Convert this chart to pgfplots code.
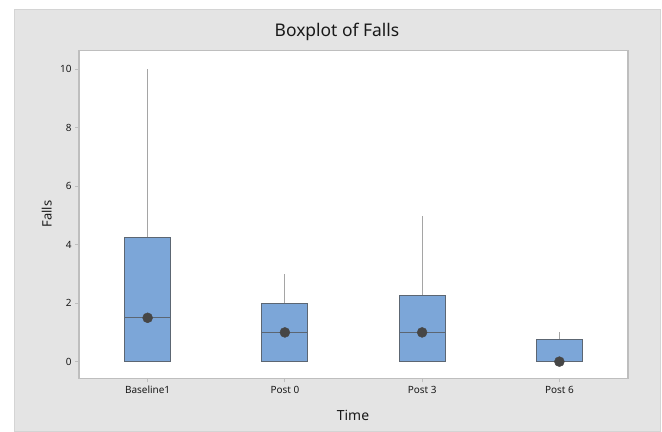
\documentclass[border=0pt]{standalone}
\usepackage{fontspec}
\setmainfont{Noto Sans}
\usepackage{pgfplots}
\pgfplotsset{compat=1.18}
\usepgfplotslibrary{statistics}

\definecolor{bggray}{RGB}{228,228,228}
\definecolor{bgedge}{RGB}{212,212,212}
\definecolor{axisgray}{RGB}{190,190,190}
\definecolor{boxfill}{RGB}{124,166,216}
\definecolor{boxedge}{RGB}{92,102,114}
\definecolor{whisk}{RGB}{165,165,165}
\definecolor{meandot}{RGB}{70,70,70}

\begin{document}
\begin{tikzpicture}
  % canvas and Minitab-style gray frame
  \fill[white] (0,0) rectangle (662bp,430bp);
  \filldraw[fill=bggray, draw=bgedge, line width=0.8bp] (14bp,-1bp) rectangle (660bp,421bp);

  \node[font=\fontsize{17.5}{20}\selectfont, text=black!90] at (337bp,398bp) {Boxplot of Falls};
  \node[font=\fontsize{14}{16}\selectfont, text=black!90] at (353bp,15bp) {Time};
  \node[font=\fontsize{13}{15}\selectfont, text=black!90, rotate=90] at (46.7bp,216bp) {Falls};

  \begin{axis}[
      at={(79bp,51.7bp)}, anchor=south west,
      scale only axis,
      width=549bp, height=327.6bp,
      xmin=0.5, xmax=4.5,
      ymin=-0.57, ymax=10.64,
      xtick={1,2,3,4},
      xticklabels={Baseline1, Post 0, Post 3, Post 6},
      ytick={0,2,4,6,8,10},
      tick pos=left,
      tick align=outside,
      major tick length=4bp,
      tick style={draw=axisgray, line width=0.8bp},
      axis line style={draw=axisgray, line width=1.5bp},
      axis background/.style={fill=white},
      ticklabel style={font=\fontsize{10}{12}\selectfont, text=black!90},
      /pgf/number format/assume math mode=true,
      boxplot/draw direction=y,
      boxplot/every whisker/.style={draw=whisk, line width=1.2bp},
      boxplot/every box/.style={draw=boxedge, fill=boxfill, line width=1bp},
      boxplot/every median/.style={draw=boxedge, line width=1.3bp},
    ]
    % Baseline1
    \addplot[boxplot prepared={draw position=1, lower whisker=0, lower quartile=0,
      median=1.5, upper quartile=4.25, upper whisker=10, box extend=0.336, whisker extend=0}]
      coordinates {};
    % Post 0
    \addplot[boxplot prepared={draw position=2, lower whisker=0, lower quartile=0,
      median=1, upper quartile=2, upper whisker=3, box extend=0.336, whisker extend=0}]
      coordinates {};
    % Post 3
    \addplot[boxplot prepared={draw position=3, lower whisker=0, lower quartile=0,
      median=1, upper quartile=2.25, upper whisker=5, box extend=0.336, whisker extend=0}]
      coordinates {};
    % Post 6
    \addplot[boxplot prepared={draw position=4, lower whisker=0, lower quartile=0,
      median=0, upper quartile=0.75, upper whisker=1, box extend=0.336, whisker extend=0}]
      coordinates {};
    % means
    \addplot[only marks, mark=*, mark size=5bp, color=meandot]
      coordinates {(1,1.5) (2,1) (3,1) (4,0)};
  \end{axis}
\end{tikzpicture}
\end{document}
